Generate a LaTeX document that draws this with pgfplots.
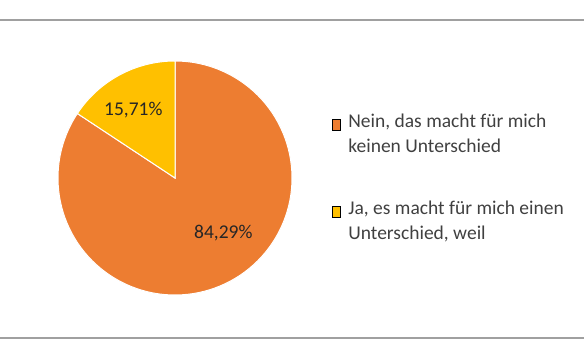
\documentclass[border=0pt]{standalone}
\usepackage{pgfplots}
\pgfplotsset{compat=1.18}
\usepackage{pgfplotstable}
\usepackage{fontspec}
\setmainfont{Carlito}
\definecolor{cNein}{HTML}{ED7D31}
\definecolor{cJa}{HTML}{FFC000}
\definecolor{frameC}{HTML}{A0A0A0}
\definecolor{txt}{HTML}{404040}
\definecolor{lbl}{HTML}{262626}

\pgfplotstableread[col sep=comma]{
label,value
Nein,84.29
Ja,15.71
}\piedata

\newcommand{\twoline}[2]{\begin{tabular}[t]{@{}l@{}}#1\\#2\end{tabular}}

\begin{document}
\fontsize{19.5bp}{25bp}\selectfont
\begin{tikzpicture}
\pgfplotstablegetelem{0}{value}\of\piedata \global\let\vNein\pgfplotsretval
\pgfplotstablegetelem{1}{value}\of\piedata \global\let\vJa\pgfplotsretval
\useasboundingbox (0,0) rectangle (584bp,360bp);
\draw[frameC, line width=1.5bp] (0,340bp) -- (584bp,340bp);
\draw[frameC, line width=1.5bp] (0,22bp) -- (584bp,22bp);
\begin{axis}[
  at={(175bp,182bp)}, anchor=center,
  scale only axis, width=234bp, height=234bp,
  xmin=-1,xmax=1,ymin=-1,ymax=1,
  hide axis, clip=false,
  legend style={at={(1.170,0.801)}, anchor=north west, draw=none, fill=none,
    inner sep=0pt, row sep=63bp, column sep=5.5bp,
    font=\fontsize{19.5bp}{25bp}\selectfont\color{txt},
    cells={anchor=base west}},
  legend image code/.code={\fill[#1] (0bp,-3bp) rectangle (8.5bp,8bp);},
]
\addlegendimage{fill=cNein}
\addlegendentry{\twoline{Nein, das macht für mich}{keinen Unterschied}}
\addlegendimage{fill=cJa}
\addlegendentry{\twoline{Ja, es macht für mich einen}{Unterschied, weil}}
\fill[cNein, draw=white, line width=1bp] (axis cs:0,0) -- ++({90+\vJa*3.6}:117bp)
  arc[start angle={90+\vJa*3.6}, delta angle={\vNein*3.6}, radius=117bp] -- cycle;
\fill[cJa, draw=white, line width=1bp] (axis cs:0,0) -- ++(90:117bp)
  arc[start angle=90, delta angle={\vJa*3.6}, radius=117bp] -- cycle;
\node[text=lbl, inner sep=0pt] at (axis cs:-0.356,0.580) {15,71\%};
\node[text=lbl, inner sep=0pt] at (axis cs:0.413,-0.470) {84,29\%};
\end{axis}
\end{tikzpicture}
\end{document}
